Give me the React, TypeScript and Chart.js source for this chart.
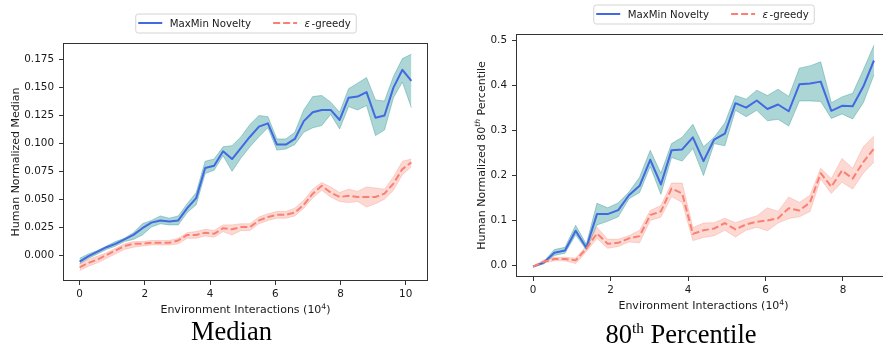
import React, { useEffect, useRef } from 'react';
import { Chart, registerables } from 'chart.js';
Chart.register(...registerables);

// ---------- DATA ----------
const seriesNames = ['MaxMin Novelty', 'ε-greedy'];

// Left panel: Median
const xLeft = [0, 0.275, 0.55, 0.825, 1.1, 1.375, 1.65, 1.925, 2.2, 2.475, 2.75, 3.025, 3.3, 3.575, 3.85, 4.125, 4.4, 4.675, 4.95, 5.225, 5.5, 5.775, 6.05, 6.325, 6.6, 6.875, 7.15, 7.425, 7.7, 7.975, 8.25, 8.525, 8.8, 9.075, 9.35, 9.625, 9.9, 10.175];
const maxminMedian = [-0.006, -0.001, 0.003, 0.007, 0.010, 0.014, 0.018, 0.024, 0.029, 0.031, 0.030, 0.031, 0.042, 0.051, 0.078, 0.080, 0.093, 0.086, 0.096, 0.106, 0.115, 0.118, 0.099, 0.099, 0.104, 0.120, 0.128, 0.130, 0.130, 0.121, 0.141, 0.142, 0.146, 0.123, 0.125, 0.150, 0.166, 0.156];
const maxminMedianLow = [-0.008, -0.003, 0.001, 0.005, 0.008, 0.012, 0.014, 0.018, 0.025, 0.028, 0.027, 0.027, 0.038, 0.045, 0.073, 0.076, 0.089, 0.075, 0.087, 0.097, 0.106, 0.114, 0.094, 0.095, 0.099, 0.110, 0.114, 0.116, 0.126, 0.113, 0.133, 0.130, 0.134, 0.107, 0.112, 0.141, 0.155, 0.132];
const maxminMedianHigh = [-0.003, 0.001, 0.004, 0.008, 0.012, 0.015, 0.020, 0.028, 0.031, 0.035, 0.033, 0.035, 0.046, 0.056, 0.084, 0.086, 0.097, 0.098, 0.106, 0.117, 0.125, 0.124, 0.104, 0.104, 0.110, 0.130, 0.142, 0.143, 0.137, 0.128, 0.149, 0.154, 0.159, 0.139, 0.138, 0.160, 0.176, 0.180];
const greedyMedian = [-0.011, -0.007, -0.004, 0.000, 0.004, 0.008, 0.010, 0.010, 0.011, 0.011, 0.011, 0.013, 0.018, 0.018, 0.020, 0.019, 0.024, 0.023, 0.025, 0.025, 0.031, 0.034, 0.036, 0.036, 0.038, 0.045, 0.055, 0.062, 0.056, 0.052, 0.053, 0.052, 0.052, 0.052, 0.055, 0.064, 0.077, 0.083];
const greedyMedianLow = [-0.014, -0.010, -0.007, -0.003, 0.001, 0.005, 0.007, 0.008, 0.009, 0.009, 0.009, 0.010, 0.015, 0.015, 0.017, 0.016, 0.021, 0.018, 0.022, 0.022, 0.028, 0.031, 0.033, 0.033, 0.035, 0.042, 0.051, 0.058, 0.052, 0.048, 0.047, 0.048, 0.043, 0.046, 0.050, 0.058, 0.072, 0.079];
const greedyMedianHigh = [-0.008, -0.004, -0.001, 0.002, 0.006, 0.010, 0.012, 0.012, 0.013, 0.013, 0.013, 0.015, 0.020, 0.021, 0.023, 0.022, 0.027, 0.027, 0.028, 0.028, 0.034, 0.037, 0.039, 0.039, 0.042, 0.049, 0.059, 0.065, 0.061, 0.056, 0.059, 0.057, 0.061, 0.060, 0.059, 0.070, 0.084, 0.086];
const xTicksLeft = [0, 2, 4, 6, 8, 10];
const yTicksLeft = [0, 0.025, 0.05, 0.075, 0.1, 0.125, 0.15, 0.175];

// Right panel: 80th percentile
const xRight = [0, 0.275, 0.55, 0.825, 1.1, 1.375, 1.65, 1.925, 2.2, 2.475, 2.75, 3.025, 3.3, 3.575, 3.85, 4.125, 4.4, 4.675, 4.95, 5.225, 5.5, 5.775, 6.05, 6.325, 6.6, 6.875, 7.15, 7.425, 7.7, 7.975, 8.25, 8.525, 8.8];
const maxminP80 = [-0.003, 0.006, 0.028, 0.033, 0.077, 0.039, 0.114, 0.114, 0.123, 0.156, 0.177, 0.235, 0.180, 0.256, 0.258, 0.285, 0.232, 0.280, 0.293, 0.361, 0.351, 0.367, 0.348, 0.358, 0.343, 0.403, 0.405, 0.409, 0.344, 0.355, 0.354, 0.398, 0.456];
const maxminP80Low = [-0.004, 0.003, 0.022, 0.027, 0.068, 0.034, 0.090, 0.098, 0.108, 0.148, 0.162, 0.220, 0.158, 0.240, 0.232, 0.260, 0.200, 0.271, 0.266, 0.345, 0.331, 0.345, 0.322, 0.325, 0.310, 0.366, 0.366, 0.365, 0.327, 0.337, 0.326, 0.362, 0.424];
const maxminP80High = [-0.002, 0.008, 0.035, 0.040, 0.089, 0.047, 0.138, 0.128, 0.139, 0.163, 0.196, 0.256, 0.205, 0.271, 0.285, 0.314, 0.264, 0.285, 0.317, 0.378, 0.370, 0.390, 0.378, 0.392, 0.376, 0.439, 0.444, 0.453, 0.362, 0.375, 0.383, 0.435, 0.490];
const greedyP80 = [-0.003, 0.008, 0.014, 0.014, 0.011, 0.037, 0.071, 0.048, 0.050, 0.060, 0.065, 0.112, 0.120, 0.171, 0.160, 0.070, 0.078, 0.082, 0.094, 0.080, 0.091, 0.097, 0.100, 0.105, 0.127, 0.122, 0.140, 0.205, 0.175, 0.211, 0.193, 0.230, 0.260];
const greedyP80Low = [-0.004, 0.005, 0.010, 0.010, 0.004, 0.030, 0.060, 0.038, 0.042, 0.052, 0.050, 0.100, 0.107, 0.153, 0.140, 0.055, 0.062, 0.066, 0.078, 0.063, 0.078, 0.085, 0.077, 0.094, 0.104, 0.108, 0.120, 0.192, 0.160, 0.185, 0.170, 0.205, 0.230];
const greedyP80High = [-0.002, 0.012, 0.018, 0.018, 0.016, 0.043, 0.085, 0.058, 0.058, 0.066, 0.078, 0.122, 0.133, 0.183, 0.183, 0.084, 0.094, 0.095, 0.105, 0.095, 0.103, 0.110, 0.128, 0.120, 0.152, 0.140, 0.156, 0.216, 0.193, 0.238, 0.216, 0.264, 0.288];
const xTicksRight = [0, 2, 4, 6, 8];
const yTicksRight = [0, 0.1, 0.2, 0.3, 0.4, 0.5];

// ---------- STYLE ----------
const FONT = '"DejaVu Sans", sans-serif';
const BLUE = '#4169e1';
const SALMON = '#fa8072';
const TEAL_BAND = 'rgba(47,150,150,0.4)';
const SALMON_BAND = 'rgba(250,128,114,0.3)';
const TEXT = '#1a1a1a';
const TICK_SIZE = 10.4;
const TITLE_SIZE = 11;
const LEGEND_SIZE = 10.2;

type Part = { text: string; sup?: boolean; italic?: boolean; after?: number };

function partsWidth(ctx: CanvasRenderingContext2D, parts: Part[], size: number) {
  let w = 0;
  for (const p of parts) {
    const s = p.sup ? size * 0.7 : size;
    ctx.font = `${p.italic ? 'italic ' : ''}${s}px ${FONT}`;
    w += ctx.measureText(p.text).width + (p.after || 0);
  }
  return w;
}
function drawParts(ctx: CanvasRenderingContext2D, parts: Part[], x: number, y: number, size: number) {
  let cx = x;
  for (const p of parts) {
    const s = p.sup ? size * 0.7 : size;
    ctx.font = `${p.italic ? 'italic ' : ''}${s}px ${FONT}`;
    ctx.fillText(p.text, cx, p.sup ? y - size * 0.42 : y);
    cx += ctx.measureText(p.text).width + (p.after || 0);
  }
}

const legendEntries: { parts: Part[]; color: string; dash: number[] }[] = [
  { parts: [{ text: seriesNames[0] }], color: BLUE, dash: [] },
  { parts: [{ text: seriesNames[1].slice(0, 1), italic: true, after: 1.5 }, { text: seriesNames[1].slice(1) }], color: SALMON, dash: [7, 3] },
];

const decorPlugin = {
  id: 'decor',
  afterDraw(chart: any, _args: any, o: any) {
    const { ctx, chartArea: a } = chart;
    ctx.save();
    // frame
    ctx.strokeStyle = '#333';
    ctx.lineWidth = 1;
    ctx.strokeRect(a.left + 0.5, a.top + 0.5, a.right - a.left - 1, a.bottom - a.top - 1);

    ctx.fillStyle = TEXT;
    ctx.textBaseline = 'alphabetic';
    ctx.textAlign = 'left';
    // x title
    const xw = partsWidth(ctx, o.xTitle, TITLE_SIZE);
    drawParts(ctx, o.xTitle, (a.left + a.right) / 2 - xw / 2, a.bottom + 32.3, TITLE_SIZE);
    // y title
    ctx.save();
    ctx.translate(a.left - o.yTitleOffset, (a.top + a.bottom) / 2);
    ctx.rotate(-Math.PI / 2);
    const yw = partsWidth(ctx, o.yTitle, TITLE_SIZE);
    drawParts(ctx, o.yTitle, -yw / 2, 0, TITLE_SIZE);
    ctx.restore();

    // legend
    const padL = 3, line = 24, gap = 7.5, col = 22, padR = 5, H = 19;
    const widths = legendEntries.map((e) => partsWidth(ctx, e.parts, LEGEND_SIZE));
    const W = padL + line + gap + widths[0] + col + line + gap + widths[1] + padR;
    const bx = (a.left + a.right) / 2 - W / 2;
    const by = a.top - 29.5;
    ctx.beginPath();
    if ((ctx as any).roundRect) (ctx as any).roundRect(bx + 0.5, by + 0.5, W, H, 2.5);
    else ctx.rect(bx + 0.5, by + 0.5, W, H);
    ctx.fillStyle = 'rgba(255,255,255,0.8)';
    ctx.fill();
    ctx.strokeStyle = '#d4d4d4';
    ctx.lineWidth = 1;
    ctx.stroke();
    let cx = bx + padL;
    legendEntries.forEach((e, i) => {
      ctx.beginPath();
      ctx.strokeStyle = e.color;
      ctx.lineWidth = 2;
      ctx.setLineDash(e.dash);
      ctx.moveTo(cx, by + 9.5);
      ctx.lineTo(cx + line, by + 9.5);
      ctx.stroke();
      ctx.setLineDash([]);
      cx += line + gap;
      ctx.fillStyle = TEXT;
      drawParts(ctx, e.parts, cx, by + 13.8, LEGEND_SIZE);
      cx += widths[i] + col;
    });
    ctx.restore();
  },
};

function pts(xs: number[], ys: number[]) {
  return xs.map((x, i) => ({ x, y: ys[i] }));
}

function makeConfig(p: any): any {
  const band = (xs: number[], lo: number[], hi: number[], color: string, order: number) => [
    { data: pts(xs, lo), borderColor: color, borderWidth: 1, pointRadius: 0, fill: false, order },
    { data: pts(xs, hi), borderColor: color, borderWidth: 1, pointRadius: 0, fill: '-1', backgroundColor: color, order },
  ];
  const axisCommon = {
    type: 'linear',
    border: { display: false },
    grid: { display: true, drawOnChartArea: false, drawTicks: true, tickLength: 4, color: 'rgba(0,0,0,0)', tickColor: '#333', tickWidth: 1 },
  };
  return {
    type: 'line',
    data: {
      datasets: [
        ...band(p.xs, p.bLo, p.bHi, TEAL_BAND, 4),
        ...band(p.xs, p.rLo, p.rHi, SALMON_BAND, 3),
        { data: pts(p.xs, p.b), borderColor: BLUE, borderWidth: 2, pointRadius: 0, fill: false, borderJoinStyle: 'round', order: 1 },
        { data: pts(p.xs, p.r), borderColor: SALMON, borderWidth: 2, borderDash: [7, 3], pointRadius: 0, fill: false, borderJoinStyle: 'round', order: 0 },
      ],
    },
    options: {
      responsive: false,
      animation: false,
      events: [],
      layout: { padding: { left: 0, right: p.padRight, top: p.padTop, bottom: 0 } },
      plugins: {
        legend: { display: false },
        tooltip: { enabled: false },
        decor: { xTitle: p.xTitle, yTitle: p.yTitle, yTitleOffset: p.yTitleOffset },
      },
      scales: {
        x: {
          ...axisCommon,
          min: p.xMin,
          max: p.xMax,
          afterBuildTicks: (s: any) => { s.ticks = p.xTicks.map((v: number) => ({ value: v })); },
          afterFit: (s: any) => { s.height = p.xAxisHeight; },
          ticks: { font: { family: 'DejaVu Sans', size: TICK_SIZE }, color: TEXT, padding: 3, maxRotation: 0, autoSkip: false, callback: (v: any) => String(v) },
        },
        y: {
          ...axisCommon,
          min: p.yMin,
          max: p.yMax,
          afterBuildTicks: (s: any) => { s.ticks = p.yTicks.map((v: number) => ({ value: v })); },
          afterFit: (s: any) => { s.width = p.yAxisWidth; },
          ticks: { font: { family: 'DejaVu Sans', size: TICK_SIZE }, color: TEXT, padding: 5, autoSkip: false, callback: (v: any) => Number(v).toFixed(p.yDecimals) },
        },
      },
    },
    plugins: [decorPlugin],
  };
}

const xTitleParts: Part[] = [{ text: 'Environment Interactions (10' }, { text: '4', sup: true }, { text: ')' }];

const leftConfig = () => makeConfig({
  xs: xLeft, b: maxminMedian, bLo: maxminMedianLow, bHi: maxminMedianHigh,
  r: greedyMedian, rLo: greedyMedianLow, rHi: greedyMedianHigh,
  xTicks: xTicksLeft, yTicks: yTicksLeft, yDecimals: 3,
  xMin: -0.51, xMax: 10.685, yMin: -0.0233, yMax: 0.19,
  padTop: 43, padRight: 12, yAxisWidth: 63, xAxisHeight: 39,
  xTitle: xTitleParts,
  yTitle: [{ text: 'Human Normalized Median' }],
  yTitleOffset: 44.5,
});

const rightConfig = () => makeConfig({
  xs: xRight, b: maxminP80, bLo: maxminP80Low, bHi: maxminP80High,
  r: greedyP80, rLo: greedyP80Low, rHi: greedyP80High,
  xTicks: xTicksRight, yTicks: yTicksRight, yDecimals: 1,
  xMin: -0.44, xMax: 9.24, yMin: -0.026, yMax: 0.515,
  padTop: 34, padRight: 4, yAxisWidth: 76, xAxisHeight: 43,
  xTitle: xTitleParts,
  yTitle: [{ text: 'Human Normalized 80' }, { text: 'th', sup: true, italic: true }, { text: ' Percentile' }],
  yTitleOffset: 31.5,
});

function ChartCanvas({ make, width, height }: { make: () => any; width: number; height: number }) {
  const ref = useRef<HTMLCanvasElement>(null);
  useEffect(() => {
    const chart = new Chart(ref.current as HTMLCanvasElement, make());
    return () => chart.destroy();
  }, []);
  return <canvas ref={ref} width={width} height={height} style={{ display: 'block', width, height }} />;
}

const serif = '"Liberation Serif", "Times New Roman", serif';

export default function App() {
  return (
    <div style={{ position: 'absolute', left: 0, top: 0, width: 883, height: 348, overflow: 'hidden', background: '#fff' }}>
      <div style={{ position: 'absolute', left: 0, top: 0 }}>
        <ChartCanvas make={leftConfig} width={440} height={320} />
      </div>
      <div style={{ position: 'absolute', left: 440, top: 0, width: 443, height: 320, overflow: 'hidden' }}>
        <ChartCanvas make={rightConfig} width={455} height={320} />
      </div>
      <div style={{ position: 'absolute', left: 131.5, top: 317.8, width: 200, textAlign: 'center', fontFamily: serif, fontSize: 26.5, lineHeight: 1, color: '#000', whiteSpace: 'nowrap' }}>
        Median
      </div>
      <div style={{ position: 'absolute', left: 581, top: 320.8, width: 200, textAlign: 'center', fontFamily: serif, fontSize: 26.5, lineHeight: 1, color: '#000', whiteSpace: 'nowrap' }}>
        80<span style={{ fontSize: '0.58em', position: 'relative', top: '-0.62em' }}>th</span> Percentile
      </div>
    </div>
  );
}
